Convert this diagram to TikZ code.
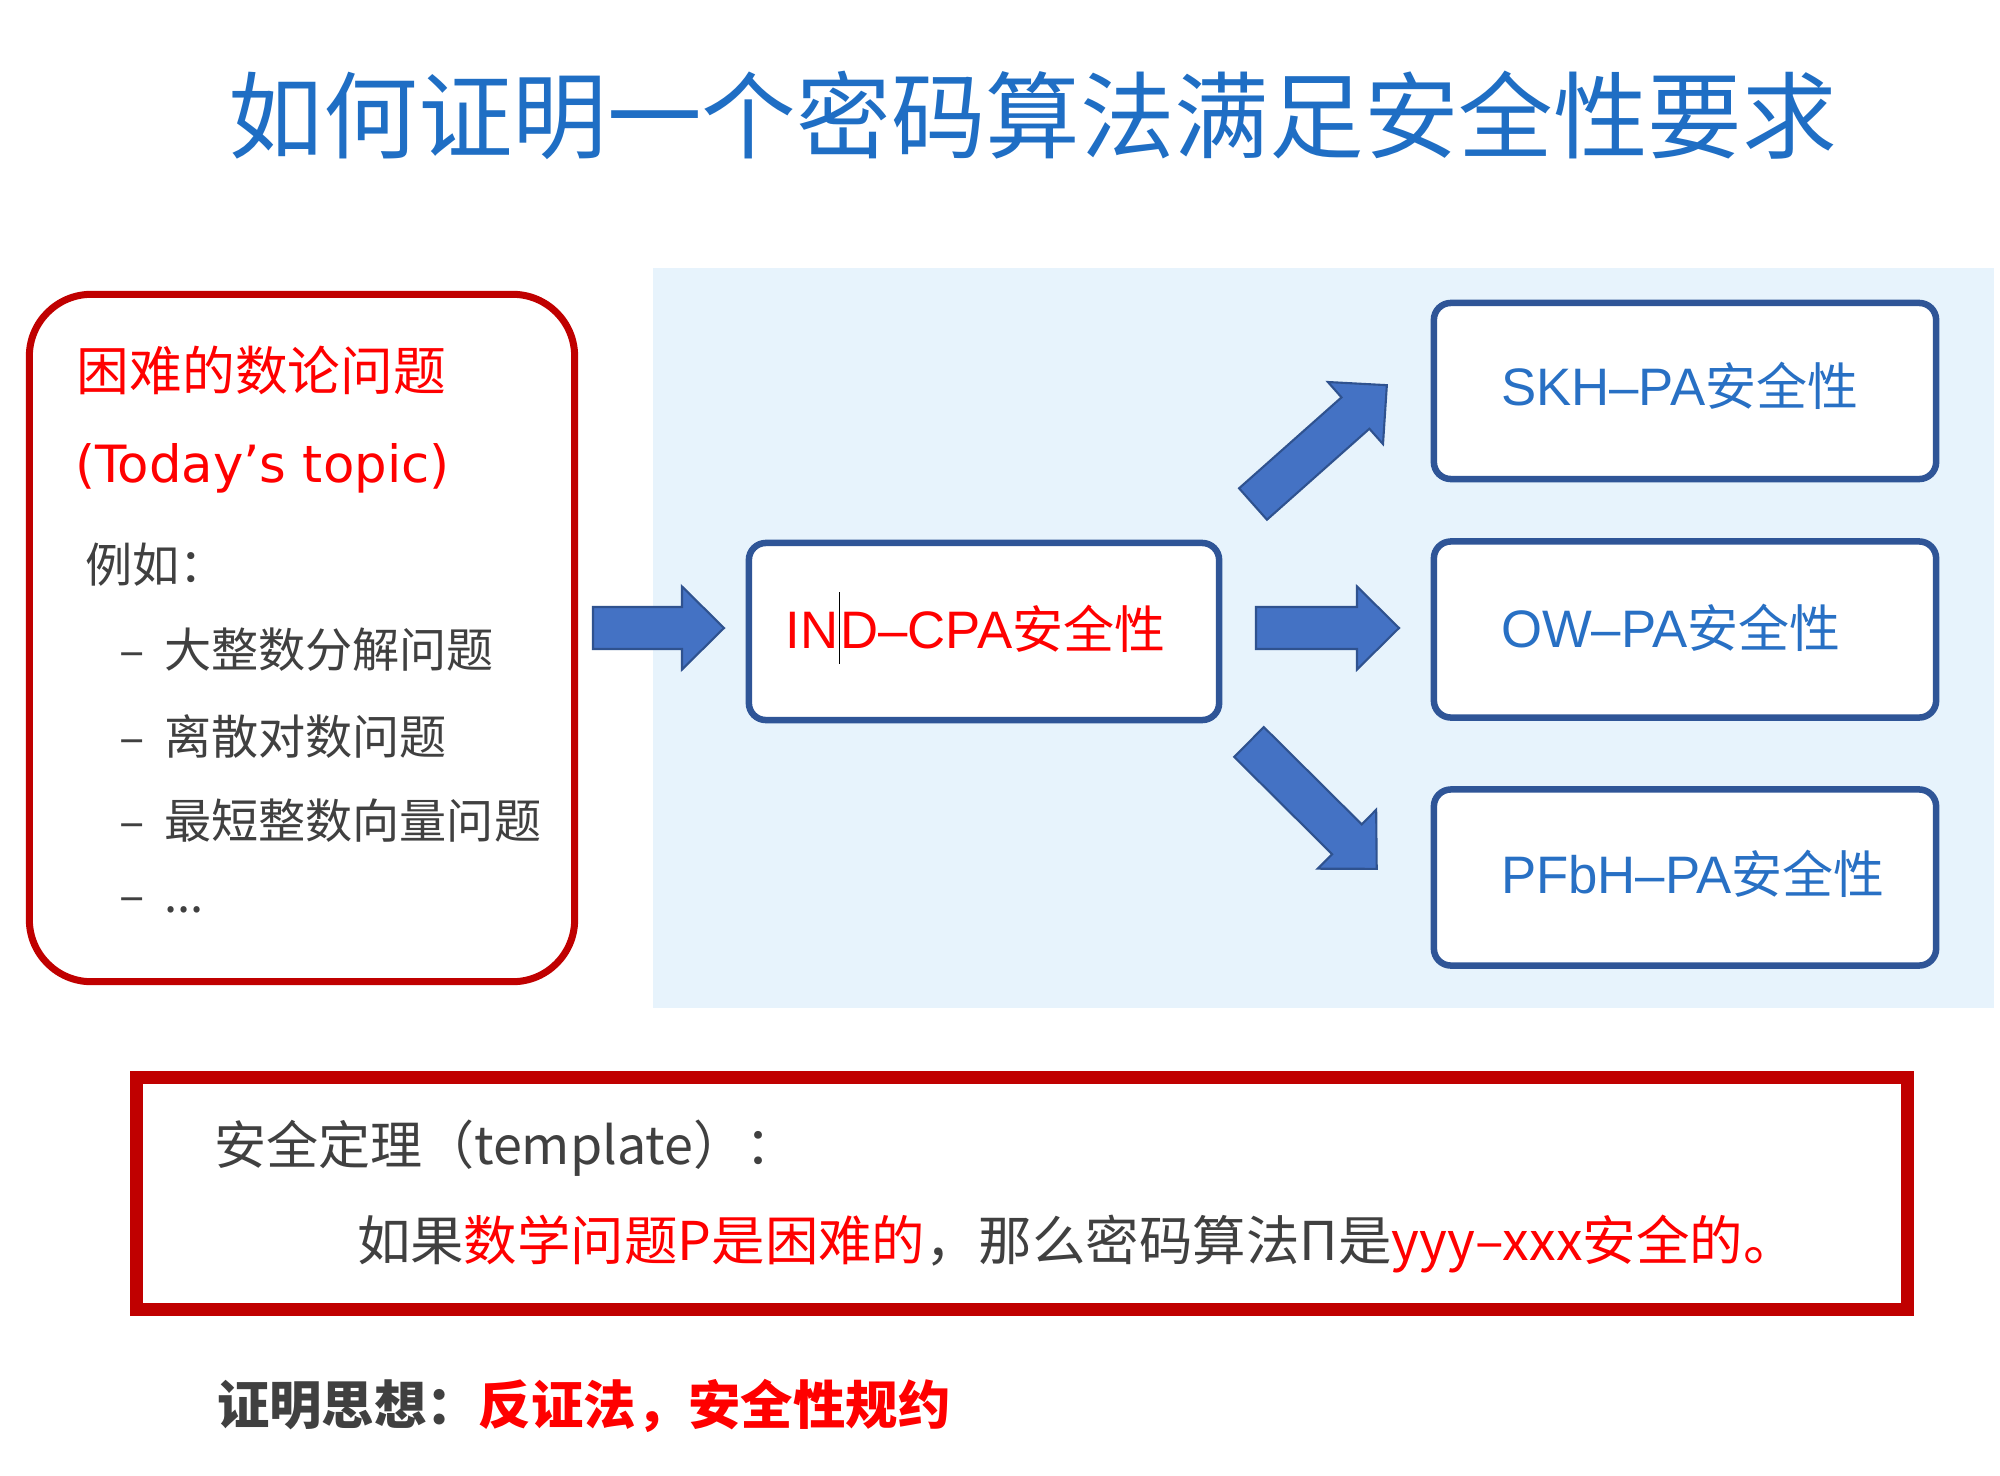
\documentclass[tikz,border=0pt]{standalone}
\usepackage{fontspec}
\setmainfont{Noto Sans CJK SC}
\newfontfamily\lat{Liberation Sans}
\newfontfamily\widelat{DejaVu Sans}
\definecolor{titleblue}{RGB}{31,110,196}
\definecolor{labelblue}{RGB}{40,112,196}
\definecolor{boxblue}{RGB}{47,85,151}
\definecolor{arrowblue}{RGB}{68,114,196}
\definecolor{arrowedge}{RGB}{47,82,143}
\definecolor{panelblue}{RGB}{231,243,252}
\definecolor{darkred}{RGB}{192,0,0}
\definecolor{hotred}{RGB}{255,0,0}
\definecolor{textgray}{RGB}{64,64,64}
\begin{document}
\begin{tikzpicture}[x=0.01cm,y=-0.01cm,
  txt/.style={inner sep=0pt, outer sep=0pt, anchor=west},
  redbox/.style={draw=darkred, line width=0.07cm, rounded corners=0.62cm, fill=white, inner sep=0pt},
  bluebox/.style={draw=boxblue, line width=0.065cm, rounded corners=0.17cm, fill=white, inner sep=0pt,
    minimum width=5.02cm, minimum height=1.76cm},
  labelfont/.style={font=\fontsize{14.5}{17}\selectfont},
  pics/barrow/.style={code={
    \path[fill=arrowblue, draw=arrowedge, line width=0.6pt, line join=miter]
      (0,-21) -- ({#1-42},-21) -- ({#1-42},-41.5) -- (#1,0) -- ({#1-42},41.5) -- ({#1-42},21) -- (0,21) -- cycle;
  }}
]
\useasboundingbox (0,0) rectangle (2000,1476);
\fill[white] (0,0) rectangle (2000,1476);

% title
\node[inner sep=0pt, text=titleblue, font=\fontsize{26.9}{32}\selectfont] (title) at (1033,115)
  {如何证明一个密码算法满足安全性要求};

% light panel behind the notion boxes
\fill[panelblue] (653,268) rectangle (1994,1008);

% hard problems box
\node[redbox, minimum width=5.45cm, minimum height=6.87cm] (hard) at (302,638) {};
\node[txt, text=hotred, font=\fontsize{15}{18}\selectfont] (hardtitle) at (77,370) {困难的数论问题};
\node[txt, text=hotred, font=\fontsize{14.6}{17}\selectfont\widelat] (topic) at (75,468) {(Today’s topic)};
\node[txt, text=textgray, font=\fontsize{13.4}{16}\selectfont] (eg) at (85,565) {例如：};
\node[txt, text=textgray, font=\fontsize{13.4}{16}\selectfont] (p1) at (119,650) {–\hspace{0.2cm}大整数分解问题};
\node[txt, text=textgray, font=\fontsize{13.4}{16}\selectfont] (p2) at (119,736) {–\hspace{0.2cm}离散对数问题};
\node[txt, text=textgray, font=\fontsize{13.4}{16}\selectfont] (p3) at (119,821) {–\hspace{0.2cm}最短整数向量问题};
\node[txt, text=textgray, font=\fontsize{13.4}{16}\selectfont] (p4) at (119,905) {–\hspace{0.2cm}...};

% security notions
\node[bluebox, minimum width=4.70cm, minimum height=1.77cm] (ind) at (984,631.5) {};
\node[inner sep=0pt, text=hotred, labelfont] (indlabel) at (975.5,628)
  {{\lat\fontsize{15}{17}\selectfont IN{\color{black}\rule[-0.28em]{0.5pt}{1.35em}}D–CPA}安全性};

\node[bluebox] (skh) at (1685,391) {};
\node[bluebox] (ow) at (1685,629.5) {};
\node[bluebox] (pfbh) at (1685,877.5) {};
\node[txt, text=labelblue, labelfont] (skhlabel) at (1501,386) {{\lat\fontsize{15}{17}\selectfont SKH–PA}安全性};
\node[txt, text=labelblue, labelfont] (owlabel) at (1501,628) {{\lat\fontsize{15}{17}\selectfont OW–PA}安全性};
\node[txt, text=labelblue, labelfont] (pfbhlabel) at (1501,874) {{\lat\fontsize{15}{17}\selectfont PFbH–PA}安全性};

% block arrows
\pic at (593,628) {barrow=131};
\pic at (1256,628) {barrow=143};
\pic[rotate=41.6] at (1253,504) {barrow=179};
\pic[rotate=-44.8] at (1249,742) {barrow=180};

% theorem template
\node[draw=darkred, line width=0.13cm, inner sep=0pt, minimum width=17.69cm, minimum height=2.32cm] (thm) at (1022,1193.5) {};
\node[txt, text=textgray, font=\fontsize{14.8}{18}\selectfont] (thmtitle) at (214,1148) {安全定理（template）：};
\node[txt, text=textgray, font=\fontsize{15.2}{18}\selectfont] (thmbody) at (357,1244)
  {如果{\color{hotred}数学问题P是困难的}，那么密码算法Π是{\color{hotred}yyy–xxx安全的。}};

% proof idea
\node[txt, text=textgray, font=\fontsize{14.9}{18}\selectfont\bfseries] (idea) at (217,1406)
  {证明思想：{\color{hotred}反证法，安全性规约}};
\end{tikzpicture}
\end{document}
